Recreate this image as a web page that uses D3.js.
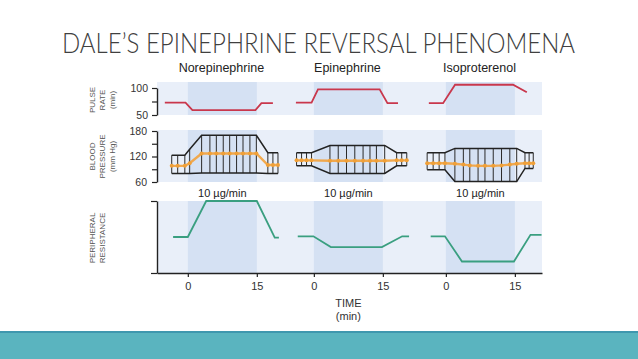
<!DOCTYPE html>
<html>
<head>
<meta charset="utf-8">
<script src="https://cdn.jsdelivr.net/npm/d3@7"></script>
<style>
  body { margin: 0; background: #fff; }
  svg { display: block; }
</style>
</head>
<body>
<div id="chart"></div>
<script>
// drugs and where each one sits on the shared time axis (min)
const drugs = ["Norepinephrine", "Epinephrine", "Isoproterenol"];
const drugOffset = [0, 27.4, 56.1];
const infusion = [0, 15];
const timeTicks = [0, 15];
const doseLabel = "10 \u00b5g/min";

// pulse rate (beats/min)
const pulseTime = [
  [-5, -0.5, 1, 14.7, 16, 18.5],
  [-3.9, -0.5, 0.9, 14.3, 16, 18.3],
  [-3.7, -0.6, 2, 14.6, 17.6]
];
const pulseValue = [
  [73, 73, 59, 59, 72, 72],
  [73, 73, 97.5, 97.5, 72, 72],
  [72, 72, 106, 106, 92]
];

// blood pressure samples (mm Hg)
const bpTime = [
  [-3.5, -2.2, -0.65, 0.4, 3, 4.8, 6.2, 7.7, 9.1, 10.6, 12, 13.5, 14.9, 17.4, 18.5, 19.6],
  [-3.76, -2.67, -1.59, -0.5, 3.5, 5.3, 7.1, 8.9, 10.7, 12.2, 13.6, 15.4, 18, 19.1, 20.2],
  [-4.07, -2.76, -1.46, -0.2, 1.96, 3.8, 5.2, 7, 8.5, 10.3, 12.1, 13.9, 15.4, 17.2, 18.1, 19]
];
const bpSystolic = [
  [123, 123, 123, 137, 170, 170, 170, 170, 170, 170, 170, 170, 170, 129, 129, 129],
  [129, 129, 129, 129, 146, 146, 146, 146, 146, 146, 146, 146, 129, 129, 129],
  [129, 129, 129, 129, 139, 139, 139, 139, 139, 139, 139, 139, 139, 129, 129, 129]
];
const bpDiastolic = [
  [80, 80, 80, 80, 81, 81, 81, 81, 81, 81, 81, 81, 81, 80, 80, 80],
  [98, 98, 98, 98, 80, 80, 80, 80, 80, 80, 80, 80, 98, 98, 98],
  [89, 89, 89, 89, 61, 61, 61, 61, 61, 61, 61, 61, 61, 92, 92, 92]
];
const bpMean = [
  [98, 98, 98, 104, 127, 127, 127, 127, 127, 127, 127, 127, 127, 100, 100, 100],
  [111, 111, 111, 111, 110, 110, 110, 110, 110, 110, 110, 110, 111, 111, 111],
  [104, 104, 104, 104, 103, 101, 99, 98, 98, 98, 99, 101, 103, 104, 104, 104]
];

// peripheral resistance (relative units)
const resTime = [
  [-3.2, 0, 4, 15, 18.9, 19.8],
  [-3.5, -0.1, 3.7, 14.8, 19.2, 20.7],
  [-3.3, -0.2, 3.5, 14.8, 18.4, 20.8]
];
const resValue = [
  [50, 50, 100, 100, 49, 49],
  [51, 51, 36, 36, 51, 51],
  [51, 51, 16, 16, 53, 53]
];

const pulseTicks = [50, 75, 100];
const bpTicks = [60, 90, 120, 150, 180];
const pulseTitle = ["PULSE", "RATE", "(min)"];
const bpTitle = ["BLOOD", "PRESSURE", "(mm Hg)"];
const resTitle = ["PERIPHERAL", "RESISTANCE"];
const timeTitle = ["TIME", "(min)"];
const title = "DALE\u2019S EPINEPHRINE REVERSAL PHENOMENA";

const W = 638, H = 359;
const left = 157, right = 542;
const lightBg = "#e9eff9", darkBg = "#d5e1f3";
const font = "'Liberation Sans', Arial, sans-serif";

const svg = d3.select("#chart").append("svg")
  .attr("width", W)
  .attr("height", H);

svg.append("rect").attr("width", W).attr("height", H).attr("fill", "#fff");

// slide title
svg.append("text")
  .attr("x", 62).attr("y", 53)
  .attr("textLength", 513)
  .attr("lengthAdjust", "spacingAndGlyphs")
  .style("font-family", "Lato, 'Open Sans', sans-serif")
  .style("font-weight", 300)
  .style("font-size", "27px")
  .attr("fill", "#404040")
  .text(title);

// bottom band
svg.append("rect").attr("x", 0).attr("y", 331).attr("width", W).attr("height", 28).attr("fill", "#5ab4bf");
svg.append("rect").attr("x", 0).attr("y", 331).attr("width", W).attr("height", 2).attr("fill", "#3f97ae");

// scales
const x = d3.scaleLinear().domain([-6.7, 77]).range([left, right]);
const yPulse = d3.scaleLinear().domain([50, 100]).range([115, 88]);
const yBp = d3.scaleLinear().domain([60, 180]).range([182, 131]);
const yRes = d3.scaleLinear().domain([0, 100]).range([273, 201]);

// panel backgrounds
const panels = [[82, 115], [130, 182], [201, 273]];
panels.forEach(function (p) {
  svg.append("rect")
    .attr("x", left).attr("y", p[0])
    .attr("width", right - left).attr("height", p[1] - p[0])
    .attr("fill", lightBg);
  drugOffset.forEach(function (o) {
    svg.append("rect")
      .attr("x", x(o + infusion[0])).attr("y", p[0])
      .attr("width", x(o + infusion[1]) - x(o + infusion[0]))
      .attr("height", p[1] - p[0])
      .attr("fill", darkBg);
  });
});

// drug names
drugs.forEach(function (d, i) {
  svg.append("text")
    .attr("x", x(drugOffset[i] + 7.3)).attr("y", 72)
    .attr("text-anchor", "middle")
    .style("font-family", font).style("font-size", "12.5px")
    .attr("fill", "#222")
    .text(d);
  svg.append("text")
    .attr("x", x(drugOffset[i] + 7.5)).attr("y", 197)
    .attr("text-anchor", "middle")
    .style("font-family", font).style("font-size", "11px")
    .attr("fill", "#222")
    .text(doseLabel);
});

function styleAxis(g) {
  g.select(".domain").attr("stroke", "#222").attr("stroke-width", 1.4);
  g.selectAll(".tick line").attr("stroke", "#222").attr("stroke-width", 1.2);
  g.selectAll("text").style("font-family", font).style("font-size", "10.5px").attr("fill", "#333");
}

// y axes
svg.append("g")
  .attr("transform", "translate(" + left + ",0)")
  .call(d3.axisLeft(yPulse).tickValues(pulseTicks).tickSize(5).tickSizeOuter(0).tickPadding(4)
    .tickFormat(function (d) { return d === 75 ? "" : d; }))
  .call(styleAxis);

svg.append("g")
  .attr("transform", "translate(" + left + ",0)")
  .call(d3.axisLeft(yBp).tickValues(bpTicks).tickSize(5).tickSizeOuter(0).tickPadding(5)
    .tickFormat(function (d) { return d % 60 === 0 ? d : ""; }))
  .call(styleAxis);

svg.append("g")
  .attr("transform", "translate(" + left + ",0)")
  .call(d3.axisLeft(yRes).tickValues([0, 100]).tickSize(6).tickSizeOuter(0).tickFormat(""))
  .call(styleAxis);

// x axis
const xTickValues = [], xTickLabels = {};
drugOffset.forEach(function (o) {
  timeTicks.forEach(function (t) { xTickValues.push(o + t); xTickLabels[o + t] = t; });
});
svg.append("g")
  .attr("transform", "translate(0,273)")
  .call(d3.axisBottom(x).tickValues(xTickValues).tickSize(4).tickSizeOuter(0).tickPadding(5)
    .tickFormat(function (d) { return xTickLabels[d]; }))
  .call(styleAxis)
  .call(function (g) { g.selectAll("text").style("font-size", "11px"); });

timeTitle.forEach(function (t, i) {
  svg.append("text")
    .attr("x", x(drugOffset[1] + 7.5)).attr("y", 307 + i * 13)
    .attr("text-anchor", "middle")
    .style("font-family", font).style("font-size", "11px")
    .attr("fill", "#333")
    .text(t);
});

// rotated axis titles
function sideTitle(lines, cy) {
  lines.forEach(function (t, i) {
    svg.append("text")
      .attr("transform", "translate(" + (95 + i * 10) + "," + cy + ") rotate(-90)")
      .attr("text-anchor", "middle")
      .style("font-family", font).style("font-size", "8px")
      .attr("fill", "#555")
      .text(t);
  });
}
sideTitle(pulseTitle, 100);
sideTitle(bpTitle, 156.5);
sideTitle(resTitle, 238);

// pulse lines
drugs.forEach(function (d, i) {
  const pts = pulseTime[i].map(function (t, j) { return [t, pulseValue[i][j]]; });
  svg.append("path")
    .datum(pts)
    .attr("fill", "none")
    .attr("stroke", "#c9374c")
    .attr("stroke-width", 1.8)
    .attr("d", d3.line()
      .x(function (p) { return x(drugOffset[i] + p[0]); })
      .y(function (p) { return yPulse(p[1]); }));
});

// blood pressure boxes
drugs.forEach(function (d, i) {
  const g = svg.append("g");
  const o = drugOffset[i];
  const rows = bpTime[i].map(function (t, j) {
    return { t: t, s: bpSystolic[i][j], d: bpDiastolic[i][j], m: bpMean[i][j] };
  });

  g.selectAll("line.v")
    .data(rows)
    .enter()
    .append("line")
    .attr("x1", function (r) { return x(o + r.t); })
    .attr("x2", function (r) { return x(o + r.t); })
    .attr("y1", function (r) { return yBp(r.s); })
    .attr("y2", function (r) { return yBp(r.d); })
    .attr("stroke", "#2a2a2a")
    .attr("stroke-width", 1);

  ["s", "d"].forEach(function (k) {
    g.append("path")
      .datum(rows)
      .attr("fill", "none")
      .attr("stroke", "#222")
      .attr("stroke-width", 1.5)
      .attr("d", d3.line()
        .x(function (r) { return x(o + r.t); })
        .y(function (r) { return yBp(r[k]); }));
  });

  g.append("path")
    .datum(rows)
    .attr("fill", "none")
    .attr("stroke", "#f3a23c")
    .attr("stroke-opacity", 0.9)
    .attr("stroke-width", 2.4)
    .attr("stroke-linecap", "round")
    .attr("d", d3.line()
      .x(function (r) { return x(o + r.t); })
      .y(function (r) { return yBp(r.m); }));

  g.selectAll("circle")
    .data(rows)
    .enter()
    .append("circle")
    .attr("cx", function (r) { return x(o + r.t); })
    .attr("cy", function (r) { return yBp(r.m); })
    .attr("r", 2)
    .attr("fill", "#f0a038");
});

// peripheral resistance lines
drugs.forEach(function (d, i) {
  const pts = resTime[i].map(function (t, j) { return [t, resValue[i][j]]; });
  svg.append("path")
    .datum(pts)
    .attr("fill", "none")
    .attr("stroke", "#3a9f80")
    .attr("stroke-width", 1.8)
    .attr("d", d3.line()
      .x(function (p) { return x(drugOffset[i] + p[0]); })
      .y(function (p) { return yRes(p[1]); }));
});
</script>
</body>
</html>
